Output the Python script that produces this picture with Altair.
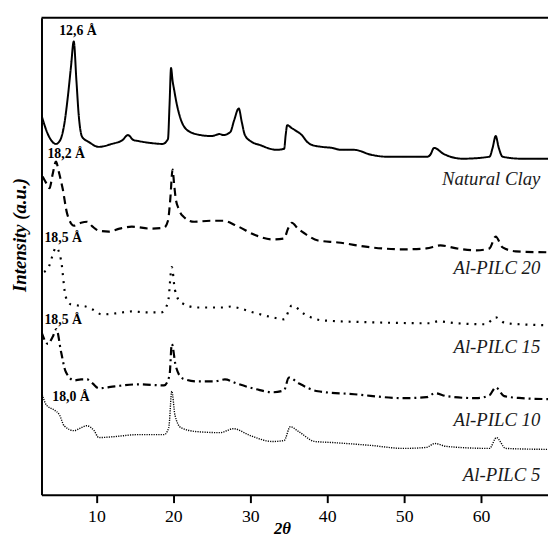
import altair as alt
import pandas as pd

# ---- data (2θ in degrees, intensity in a.u. with stacking offsets) ----
clay_t = [2.86, 3.8, 4.74, 5.3, 5.8, 6.3, 6.7, 7.05, 7.4, 7.7, 8.15, 9.0, 10.3, 12.0, 13.4, 14.1, 14.8,
          15.4, 17.0, 18.6, 19.3, 19.5, 19.7, 19.9, 20.1, 20.4, 20.8, 21.8, 23.5, 25.0, 26.0, 26.5, 27.4,
          27.9, 28.5, 28.9, 29.3, 30.2, 31.2, 33.4, 34.4, 34.6, 34.8, 35.4, 36.0, 36.7, 37.4, 38.0, 39.3,
          40.6, 41.8, 43.5, 45.7, 47.8, 53.0, 53.4, 53.9, 55.1, 57.6, 61.1, 61.5, 61.9, 62.3, 62.8, 65.3, 68.7]
clay_i = [385, 364, 356, 360, 375, 405, 435, 460, 420, 385, 363, 358, 353, 356, 360, 365, 360,
          359, 357, 356, 361, 395, 433, 420, 411, 398, 385, 370, 365, 364, 366, 365, 368,
          380, 392, 378, 365, 358, 355, 350, 351, 365, 375, 372, 369, 365, 358, 355, 353,
          352, 350, 350, 345, 343, 343, 345, 352, 346, 341, 343, 352, 364, 352, 343, 341, 341]

p20_t = [3.0, 3.5, 3.9, 4.3, 4.74, 5.1, 5.6, 6.2, 7.1, 8.0, 8.8, 9.5, 10.3, 11.6, 13.0, 14.6, 17.1, 18.8,
         19.3, 19.6, 19.9, 20.1, 20.3, 20.7, 21.2, 22.7, 24.8, 26.5, 28.2, 30.8, 32.9, 34.4, 34.9, 35.4,
         36.2, 37.1, 38.8, 41.4, 45.7, 49.9, 52.9, 54.7, 56.8, 59.4, 61.1, 61.9, 62.8, 64.5, 68.7]
p20_i = [323, 316, 311, 325, 338, 328, 311, 285, 273, 276, 277, 272, 268, 267, 270, 272, 270, 271,
         278, 300, 330, 315, 301, 290, 283, 277, 278, 278, 273, 263, 259, 260, 270, 276,
         270, 265, 258, 256, 251, 249, 250, 253, 250, 248, 250, 262, 251, 247, 246]

p15_t = [3.2, 3.9, 4.3, 4.74, 5.4, 6.0, 6.7, 7.6, 8.6, 9.5, 10.7, 12.5, 14.6, 16.5, 18.4, 19.3, 19.8, 20.2,
         21.0, 23.1, 26.5, 27.5, 28.2, 30.4, 32.9, 34.4, 35.4, 37.1, 39.3, 45.7, 53.4, 54.4, 56.8, 60.6,
         61.9, 63.2, 68.7]
p15_i = [226, 233, 243, 251, 238, 201, 193, 192, 191, 188, 183, 184, 186, 185, 185, 195, 231, 208,
         195, 190, 190, 191, 190, 185, 180, 178, 192, 183, 177, 175, 174, 176, 174, 173,
         180, 174, 172]

p10_t = [2.86, 3.7, 4.3, 4.8, 5.4, 6.0, 7.1, 8.0, 8.8, 9.5, 10.3, 12.4, 15.4, 18.8, 19.5, 19.8, 20.3, 21.2,
         23.1, 25.3, 26.7, 28.2, 30.8, 32.9, 34.4, 35.0, 36.3, 38.8, 43.5, 49.9, 52.9, 54.0, 55.5, 59.4,
         61.1, 61.9, 63.0, 65.3, 68.7]
p10_i = [165, 153, 160, 168, 145, 125, 116, 117, 117, 113, 108, 110, 112, 111, 121, 153, 131, 118,
         115, 115, 117, 113, 107, 104, 106, 119, 113, 105, 102, 98, 99, 103, 100, 98,
         101, 109, 100, 98, 97]

p5_t = [2.86, 3.5, 4.5, 5.2, 5.8, 7.1, 8.0, 8.7, 9.7, 10.3, 12.4, 15.4, 18.8, 19.4, 19.8, 20.2, 21.0, 23.1,
        26.1, 27.8, 30.0, 32.9, 34.4, 35.2, 36.3, 38.4, 40.6, 45.7, 49.9, 52.9, 54.0, 55.5, 61.1, 62.0,
        63.2, 68.7]
p5_i = [104, 91, 86, 81, 70, 65, 68, 70, 65, 58, 59, 61, 61, 68, 105, 81, 68, 64,
        63, 67, 60, 54, 55, 69, 64, 54, 53, 50, 47, 48, 52, 49, 47, 58,
        47, 46]

series_names = ["Natural Clay", "Al-PILC 20", "Al-PILC 15", "Al-PILC 10", "Al-PILC 5"]
series_t = [clay_t, p20_t, p15_t, p10_t, p5_t]
series_i = [clay_i, p20_i, p15_i, p10_i, p5_i]

# series name labels (anchored at right)
name_t = [67.7, 67.7, 67.7, 67.7, 67.7]
name_i = [320, 230, 150, 76, 20]

# d-spacing annotations
peak_text = ["12,6 Å", "18,2 Å", "18,5 Å", "18,5 Å", "18,0 Å"]
peak_t = [7.6, 6.07, 5.68, 5.68, 6.7]
peak_i = [471, 346, 260, 177, 99]

x_ticks = [10, 20, 30, 40, 50, 60]

# ---- styles ----
dashes = {"Natural Clay": [1, 0], "Al-PILC 20": [8, 5], "Al-PILC 15": [2, 6],
          "Al-PILC 10": [8, 4, 2, 4], "Al-PILC 5": [1.2, 1.2]}
widths = {"Natural Clay": 2, "Al-PILC 20": 2.2, "Al-PILC 15": 2.2, "Al-PILC 10": 2.2, "Al-PILC 5": 1.4}

W, H = 514, 484
serif = "Liberation Serif"

xscale = alt.Scale(domain=[2.86, 68.7], nice=False, zero=False)
yscale = alt.Scale(domain=[0, 484], nice=False, zero=False)

xaxis = alt.Axis(values=x_ticks, title="2θ", grid=False, tickSize=8, tickWidth=2, tickColor="black",
                 domainColor="black", domainWidth=2, labelFont=serif, labelFontSize=18,
                 labelColor="black", labelPadding=5, titleFont=serif, titleFontSize=17,
                 titleFontStyle="italic", titleFontWeight="bold", titleColor="black",
                 titleX=244, titleY=39, titleBaseline="alphabetic")
yaxis = alt.Axis(title="Intensity (a.u.)", grid=False, ticks=False, labels=False, domainColor="black",
                 domainWidth=2, titleFont=serif, titleFontSize=19, titleFontStyle="italic",
                 titleFontWeight="bold", titleColor="black", titlePadding=12, titleY=220)

X = alt.X("theta:Q", scale=xscale, axis=xaxis)
Y = alt.Y("intensity:Q", scale=yscale, axis=yaxis)

layers = []
for name, t, i in zip(series_names, series_t, series_i):
    df = pd.DataFrame({"theta": t, "intensity": i, "series": name})
    ch = alt.Chart(df).mark_line(color="black", strokeWidth=widths[name], strokeDash=dashes[name],
                                 interpolate="monotone", clip=True).encode(
        x=X, y=Y, order=alt.Order("theta:Q"))
    layers.append(ch)

names_df = pd.DataFrame({"theta": name_t, "intensity": name_i, "label": series_names})
names_layer = alt.Chart(names_df).mark_text(font=serif, fontSize=19, fontStyle="italic", align="right",
                                            baseline="middle", color="#1a1a1a").encode(
    x=X, y=Y, text="label:N")

peaks_df = pd.DataFrame({"theta": peak_t, "intensity": peak_i, "label": peak_text})
peaks_layer = alt.Chart(peaks_df).mark_text(font=serif, fontSize=14, fontWeight="bold", align="center",
                                            baseline="middle", color="black").encode(
    x=X, y=Y, text="label:N")

top_border = alt.Chart(pd.DataFrame({"a": [0]})).mark_rule(color="black", strokeWidth=2).encode(
    x=alt.value(0), x2=alt.value(W), y=alt.value(0))

chart = alt.layer(*layers, names_layer, peaks_layer, top_border).properties(
    width=W, height=H,
    autosize=alt.AutoSizeParams(type="none"),
    padding={"left": 34, "top": 6, "right": 0, "bottom": 41},
    background="white",
).configure_view(stroke=None)

chart.save("out.html", embed_options={"renderer": "svg", "actions": False})
